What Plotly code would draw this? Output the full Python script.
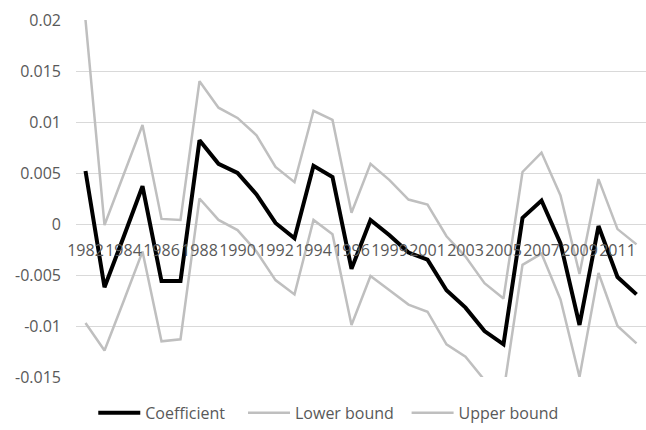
import plotly.graph_objects as go

# Years on the category axis (1998 not in the sample)
years = ["1982", "1983", "1984", "1985", "1986", "1987", "1988", "1989", "1990",
         "1991", "1992", "1993", "1994", "1995", "1996", "1997", "1999", "2000",
         "2001", "2002", "2003", "2004", "2005", "2006", "2007", "2008", "2009",
         "2010", "2011", "2012"]

coefficient = [0.0052, -0.0062, -0.0013, 0.0037, -0.0056, -0.0056, 0.0082, 0.0059,
               0.0050, 0.0029, 0.0001, -0.0014, 0.0057, 0.0046, -0.0044, 0.0004,
               -0.0011, -0.0028, -0.0035, -0.0065, -0.0082, -0.0105, -0.0118, 0.0006,
               0.0023, -0.0019, -0.0099, -0.0002, -0.0052, -0.0069]

lower_bound = [-0.0097, -0.0124, -0.0076, -0.0027, -0.0115, -0.0113, 0.0025, 0.0004,
               -0.0006, -0.0027, -0.0055, -0.0069, 0.0004, -0.0010, -0.0099, -0.0051,
               -0.0065, -0.0079, -0.0086, -0.0118, -0.0130, -0.0153, -0.0165, -0.0040,
               -0.0029, -0.0074, -0.0150, -0.0048, -0.0100, -0.0117]

upper_bound = [0.0200, -0.0001, 0.0048, 0.0097, 0.0005, 0.0004, 0.0140, 0.0114,
               0.0104, 0.0087, 0.0056, 0.0041, 0.0111, 0.0102, 0.0011, 0.0059,
               0.0043, 0.0024, 0.0019, -0.0012, -0.0032, -0.0058, -0.0073, 0.0051,
               0.0070, 0.0028, -0.0049, 0.0044, -0.0005, -0.0020]

y_ticks = [-0.015, -0.01, -0.005, 0, 0.005, 0.01, 0.015, 0.02]
y_tick_text = ["-0.015", "-0.01", "-0.005", "0", "0.005", "0.01", "0.015", "0.02"]

FONT = "Open Sans"
TEXT = "#595959"
GRID = "#D9D9D9"
GREY = "#BFBFBF"

fig = go.Figure()
fig.add_trace(go.Scatter(x=years, y=coefficient, mode="lines", name="Coefficient",
                         line=dict(color="#000000", width=4), legend="legend"))
fig.add_trace(go.Scatter(x=years, y=lower_bound, mode="lines", name="Lower bound",
                         line=dict(color=GREY, width=2.5), legend="legend2"))
fig.add_trace(go.Scatter(x=years, y=upper_bound, mode="lines", name="Upper bound",
                         line=dict(color=GREY, width=2.5), legend="legend3"))

legend_style = dict(orientation="h", yanchor="middle", xanchor="left", y=-0.1006,
                    bgcolor="rgba(0,0,0,0)", itemwidth=42,
                    font=dict(family=FONT, size=16, color=TEXT))

fig.update_layout(
    width=646, height=430,
    margin=dict(l=76, r=0, t=20, b=51),
    paper_bgcolor="white", plot_bgcolor="white",
    font=dict(family=FONT, size=16, color=TEXT),
    showlegend=True,
    legend=dict(x=0.0303, **legend_style),
    legend2=dict(x=0.293, **legend_style),
    legend3=dict(x=0.580, **legend_style),
    xaxis=dict(type="category", range=[-0.5, len(years) - 0.5],
               anchor="free", position=0.015 / 0.035,
               tickmode="array", tickvals=years[::2], tickangle=0,
               ticklabelstandoff=15,
               showgrid=False, zeroline=False, showline=False, ticks="",
               tickfont=dict(family=FONT, size=16, color=TEXT)),
    yaxis=dict(range=[-0.015, 0.02], tickmode="array", tickvals=y_ticks,
               ticktext=y_tick_text, showgrid=True, gridcolor=GRID, gridwidth=1.3,
               zeroline=True, zerolinecolor=GRID, zerolinewidth=1.3,
               showline=False, ticks="", ticklabelstandoff=14,
               tickfont=dict(family=FONT, size=16, color=TEXT)),
)

fig.write_html("out.html")
